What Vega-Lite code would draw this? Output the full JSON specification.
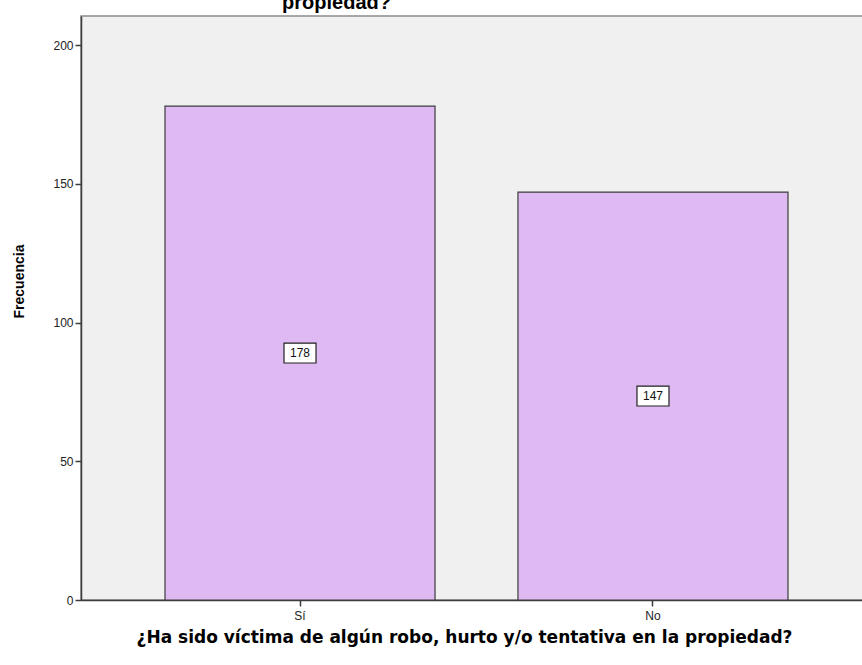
{
  "$schema": "https://vega.github.io/schema/vega-lite/v6.json",
  "width": 791,
  "height": 584,
  "autosize": {"type": "none"},
  "padding": {"left": 81, "top": 16, "right": 0, "bottom": 65},
  "background": "white",
  "title": {
    "text": ["¿Ha sido víctima de algún robo, hurto y/o tentativa en la", "propiedad?"],
    "font": "Liberation Sans",
    "fontSize": 20,
    "fontWeight": "bold",
    "color": "#000000",
    "anchor": "middle",
    "dx": -140,
    "offset": 3
  },
  "config": {
    "view": {"fill": "#F0F0F0", "stroke": "#8C8C8C", "strokeWidth": 1.5},
    "font": "Liberation Sans",
    "axis": {
      "domainColor": "#3C3C3C",
      "domainWidth": 1.5,
      "tickColor": "#3C3C3C",
      "tickWidth": 1.5,
      "labelColor": "#222222",
      "labelFont": "Liberation Sans",
      "labelFontSize": 12,
      "titleColor": "#000000",
      "titleFont": "Liberation Sans",
      "titleFontWeight": "bold",
      "grid": false
    }
  },
  "data": {
    "values": [
      {"Respuesta": "Sí", "Frecuencia": 178},
      {"Respuesta": "No", "Frecuencia": 147}
    ]
  },
  "transform": [{"calculate": "datum.Frecuencia / 2", "as": "Mitad"}],
  "encoding": {
    "x": {
      "field": "Respuesta",
      "type": "nominal",
      "sort": ["Sí", "No"],
      "scale": {"paddingInner": 0.235, "paddingOuter": 0.238},
      "axis": {
        "title": "¿Ha sido víctima de algún robo, hurto y/o tentativa en la propiedad?",
        "titleFont": "DejaVu Sans",
        "titleFontSize": 17,
        "titleX": 383,
        "titlePadding": 8,
        "labelAngle": 0,
        "tickSize": 6,
        "labelPadding": 4
      }
    }
  },
  "layer": [
    {
      "mark": {"type": "bar", "fill": "#DFB9F2", "stroke": "#3C3C3C", "strokeWidth": 1.2},
      "encoding": {
        "y": {
          "field": "Frecuencia",
          "type": "quantitative",
          "scale": {"domain": [0, 210.5], "nice": false},
          "axis": {
            "title": "Frecuencia",
            "titleFontSize": 14,
            "titlePadding": 26,
            "titleY": 265,
            "values": [0, 50, 100, 150, 200],
            "tickSize": 6,
            "labelPadding": 2
          }
        }
      }
    },
    {
      "mark": {"type": "point", "shape": "M-1,-0.62H1V0.62H-1Z", "filled": true, "fill": "white", "stroke": "#222222", "strokeWidth": 1.2, "opacity": 1, "size": 1024},
      "encoding": {"y": {"field": "Mitad", "type": "quantitative"}}
    },
    {
      "mark": {"type": "text", "font": "Liberation Sans", "fontSize": 12, "color": "#111111", "baseline": "middle", "align": "center"},
      "encoding": {
        "y": {"field": "Mitad", "type": "quantitative"},
        "text": {"field": "Frecuencia", "type": "quantitative"}
      }
    }
  ]
}
